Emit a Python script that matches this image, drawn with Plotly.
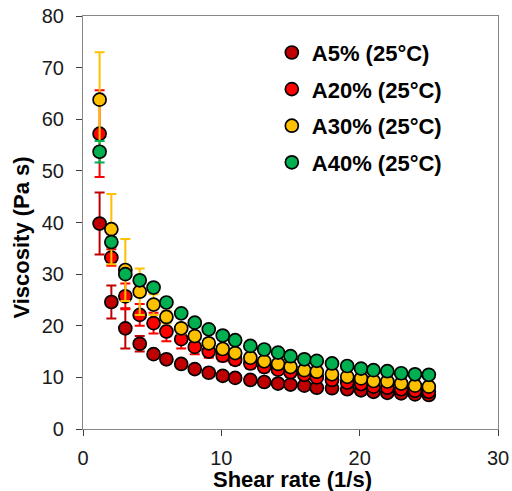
import plotly.graph_objects as go

shear_rate = [1.2, 2.05, 3.06, 4.1, 5.1, 6.03, 7.1, 8.08, 9.09, 10.1, 11.0, 12.1, 13.1,
              14.1, 15.0, 16.0, 16.9, 18.0, 19.1, 20.1, 21.0, 22.0, 23.0, 24.0, 25.0]

a5 = [39.8, 24.6, 19.5, 16.5, 14.5, 13.5, 12.6, 11.6, 10.9, 10.3, 9.9, 9.5, 9.1,
      8.8, 8.6, 8.4, 8.0, 7.9, 7.7, 7.5, 7.2, 7.0, 6.9, 6.7, 6.6]
a5_err = [6.0, 3.2, 3.9, 1.5, 0.8, 0.6, 0.5, 0.5, 0.5, 0.4, 0.4, 0.4, 0.4,
          0.4, 0.3, 0.3, 0.3, 0.3, 0.3, 0.3, 0.3, 0.3, 0.3, 0.3, 0.3]

a20 = [57.2, 33.2, 25.7, 22.1, 20.5, 18.9, 17.4, 15.9, 15.0, 14.2, 13.4, 12.7, 12.0,
       11.5, 11.0, 10.5, 10.0, 9.5, 9.0, 8.7, 8.2, 8.0, 7.7, 7.4, 7.2]
a20_err = [8.4, 1.6, 2.5, 2.1, 2.0, 1.9, 1.8, 1.4, 1.2, 1.1, 1.0, 1.0, 1.0,
           0.9, 0.9, 0.9, 0.8, 0.8, 0.8, 0.8, 0.7, 0.7, 0.7, 0.7, 0.7]

a30 = [63.8, 38.7, 30.8, 26.6, 24.1, 21.7, 19.5, 18.0, 16.6, 15.5, 14.7, 13.8, 13.1,
       12.6, 12.0, 11.4, 11.1, 10.6, 10.1, 9.8, 9.3, 9.2, 8.8, 8.4, 8.2]
a30_err = [9.2, 6.8, 6.0, 4.5, 2.0, 1.2, 1.0, 0.8, 0.7, 0.6, 0.6, 0.5, 0.5,
           0.5, 0.5, 0.4, 0.4, 0.4, 0.4, 0.4, 0.4, 0.4, 0.4, 0.4, 0.4]

a40 = [53.7, 36.2, 30.0, 28.8, 27.4, 24.5, 22.4, 20.6, 19.3, 18.1, 17.2, 16.1, 15.4,
       14.8, 14.1, 13.5, 13.2, 12.7, 12.2, 11.7, 11.4, 11.2, 10.8, 10.6, 10.5]
a40_err = [2.1, 1.0, 0.8, 0.6, 0.5, 0.5, 0.4, 0.4, 0.4, 0.4, 0.4, 0.4, 0.4,
           0.4, 0.3, 0.3, 0.3, 0.3, 0.3, 0.3, 0.3, 0.3, 0.3, 0.3, 0.3]

series_names = ["A5% (25°C)", "A20% (25°C)", "A30% (25°C)", "A40% (25°C)"]
series_values = [a5, a20, a30, a40]
series_errors = [a5_err, a20_err, a30_err, a40_err]
series_colors = ["#C00000", "#FF0000", "#FFC000", "#00B050"]

x_ticks = [0, 10, 20, 30]
y_ticks = [0, 10, 20, 30, 40, 50, 60, 70, 80]

FONT = "Liberation Sans, Arial, sans-serif"

fig = go.Figure()
for name, vals, errs, col in zip(series_names, series_values, series_errors, series_colors):
    fig.add_trace(go.Scatter(
        x=shear_rate, y=vals, mode="markers", name=name, legendgroup=name,
        marker=dict(size=13, color=col, line=dict(color="black", width=1.7)),
        error_y=dict(type="data", array=errs, color=col, thickness=2, width=5),
    ))

axis_common = dict(
    showline=True, linecolor="#868686", linewidth=1.2, mirror=True,
    ticks="outside", ticklen=6, tickcolor="#404040", tickwidth=1,
    showgrid=False, zeroline=False, automargin=False, ticklabeloverflow="allow",
    tickfont=dict(family=FONT, size=20, color="#1a1a1a"),
)

fig.update_layout(
    width=512, height=491,
    margin=dict(l=83, r=14, t=16, b=62, autoexpand=False),
    paper_bgcolor="white", plot_bgcolor="white",
    showlegend=True,
    legend=dict(
        x=0.455, y=0.962, xanchor="left", yanchor="top",
        font=dict(family=FONT, size=22, color="black", weight="bold"),
        tracegroupgap=5, bgcolor="rgba(0,0,0,0)", itemwidth=30,
    ),
    xaxis=dict(range=[0, 30], tickvals=x_ticks, ticklabelstandoff=5, **axis_common),
    yaxis=dict(range=[0, 80], tickvals=y_ticks, ticklabelstandoff=8, **axis_common),
    annotations=[
        dict(text="<b>Shear rate (1/s)</b>", xref="paper", yref="paper",
             x=0.505, y=-0.122, xanchor="center", yanchor="middle", showarrow=False,
             font=dict(family=FONT, size=22, color="black")),
        dict(text="<b>Viscosity (Pa s)</b>", xref="paper", yref="paper",
             x=-0.148, y=0.4625, xanchor="center", yanchor="middle", showarrow=False,
             textangle=-90, font=dict(family=FONT, size=22, color="black")),
    ],
)

fig.write_html(
    "out.html",
    config={"displayModeBar": False},
    post_script="document.body.style.margin='0';document.body.style.overflow='hidden';",
)
